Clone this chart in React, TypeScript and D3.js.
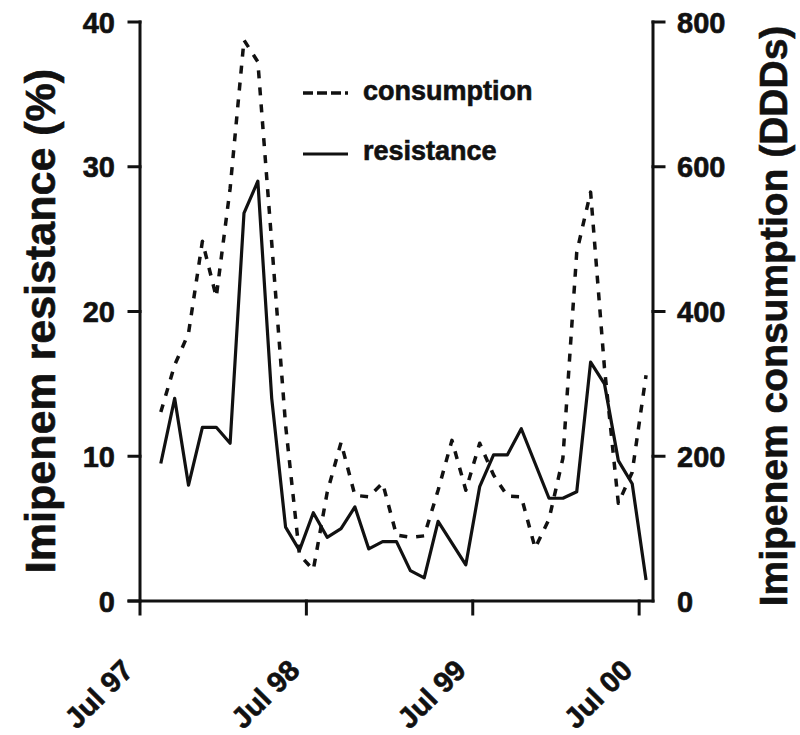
import React from "react";
import * as d3 from "d3";

// Monthly series, Aug 1997 – Jul 2000
const resistance: number[] = [
  9.5, 14.0, 8.0, 12.0, 12.0, 10.9, 26.8, 29.0, 14.0, 5.1, 3.5, 6.1,
  4.4, 5.0, 6.5, 3.6, 4.1, 4.1, 2.1, 1.6, 5.5, 4.0, 2.5, 7.9,
  10.1, 10.1, 11.9, 9.5, 7.1, 7.1, 7.55, 16.5, 15.0, 9.7, 8.1, 1.45,
];
const consumption: number[] = [
  261, 326, 370, 497, 420, 570, 775, 745, 495, 243, 64, 43,
  150, 219, 146, 144, 163, 91, 88, 90, 153, 222, 153, 218,
  174, 145, 144, 73, 113, 197, 482, 565, 322, 135, 178, 312,
];
const xTickMonths: number[] = [0, 12, 24, 36];
const xTickLabels: string[] = ["Jul 97", "Jul 98", "Jul 99", "Jul 00"];
const leftTicks: number[] = [0, 10, 20, 30, 40];
const rightTicks: number[] = [200, 400, 600, 800];
const legendLabels: string[] = ["consumption", "resistance"];

const W = 800;
const H = 735;
const FONT = "'Liberation Sans', Arial, Helvetica, sans-serif";

export default function App() {
  // months since Jul 97
  const x = d3.scaleLinear().domain([0, 37]).range([140, 653]);
  const yL = d3.scaleLinear().domain([0, 40]).range([601, 22]);
  const yR = d3.scaleLinear().domain([0, 800]).range([601, 22]);

  const resLine = d3
    .line<number>()
    .x((_, i) => x(i + 1.5))
    .y((d) => yL(d));
  const conLine = d3
    .line<number>()
    .x((_, i) => x(i + 1.5))
    .y((d) => yR(d));

  const x0 = x(0);
  const x1 = x(37);
  const yBase = yL(0);
  const stroke = "#111";
  const textStroke = { stroke: "#111", strokeWidth: 0.6 };

  return (
    <svg
      width={W}
      height={H}
      viewBox={`0 0 ${W} ${H}`}
      style={{ position: "absolute", left: 0, top: 0, background: "#fff" }}
      fontFamily={FONT}
      fontWeight="bold"
    >
      <rect x={0} y={0} width={W} height={H} fill="#fff" />

      {/* axes */}
      <g stroke={stroke} strokeWidth={3} fill="none" strokeLinecap="square">
        <line x1={x0} y1={yL(40)} x2={x0} y2={yBase + 13} />
        <line x1={x0 - 11} y1={yBase} x2={x1} y2={yBase} />
        <line x1={x1} y1={yR(800)} x2={x1} y2={yBase} />
        {leftTicks.map((t) => (
          <line key={`lt${t}`} x1={x0 - 11} y1={yL(t)} x2={x0} y2={yL(t)} />
        ))}
        {rightTicks.map((t) => (
          <line key={`rt${t}`} x1={x1} y1={yR(t)} x2={x1 + 11} y2={yR(t)} />
        ))}
        {xTickMonths.slice(1).map((m) => (
          <line key={`xt${m}`} x1={x(m)} y1={yBase} x2={x(m)} y2={yBase + 13} />
        ))}
      </g>

      {/* tick labels */}
      <g fill={stroke} fontSize={29} {...textStroke}>
        {leftTicks.map((t) => (
          <text key={`ll${t}`} x={115} y={yL(t) + 10.5} textAnchor="end">
            {t}
          </text>
        ))}
        {rightTicks.concat([0]).map((t) => (
          <text key={`rl${t}`} x={677} y={yR(t) + 10.5} textAnchor="start">
            {t}
          </text>
        ))}
        {xTickMonths.map((m, i) => (
          <text
            key={`xl${m}`}
            transform={`translate(${x(m) - 5},${672}) rotate(-45)`}
            textAnchor="end"
          >
            {xTickLabels[i]}
          </text>
        ))}
      </g>

      {/* axis titles */}
      <text
        transform="translate(55,321) rotate(-90)"
        textAnchor="middle"
        fontSize={43}
        fill={stroke}
        {...textStroke}
      >
        Imipenem resistance (%)
      </text>
      <text
        transform="translate(787,316) rotate(-90)"
        textAnchor="middle"
        fontSize={39}
        fill={stroke}
        {...textStroke}
      >
        Imipenem consumption (DDDs)
      </text>

      {/* series */}
      <path
        d={conLine(consumption) ?? ""}
        fill="none"
        stroke={stroke}
        strokeWidth={3.5}
        strokeDasharray="8,9"
        strokeLinejoin="round"
      />
      <path
        d={resLine(resistance) ?? ""}
        fill="none"
        stroke={stroke}
        strokeWidth={3.2}
        strokeLinejoin="round"
      />

      {/* legend */}
      <g>
        <line x1={303} y1={93} x2={348} y2={93} stroke={stroke} strokeWidth={3.5} strokeDasharray="10,4" />
        <text x={363} y={100} fontSize={27} fill={stroke} {...textStroke}>
          {legendLabels[0]}
        </text>
        <line x1={303} y1={154} x2={348} y2={154} stroke={stroke} strokeWidth={3} />
        <text x={363} y={160} fontSize={27} fill={stroke} {...textStroke}>
          {legendLabels[1]}
        </text>
      </g>
    </svg>
  );
}
